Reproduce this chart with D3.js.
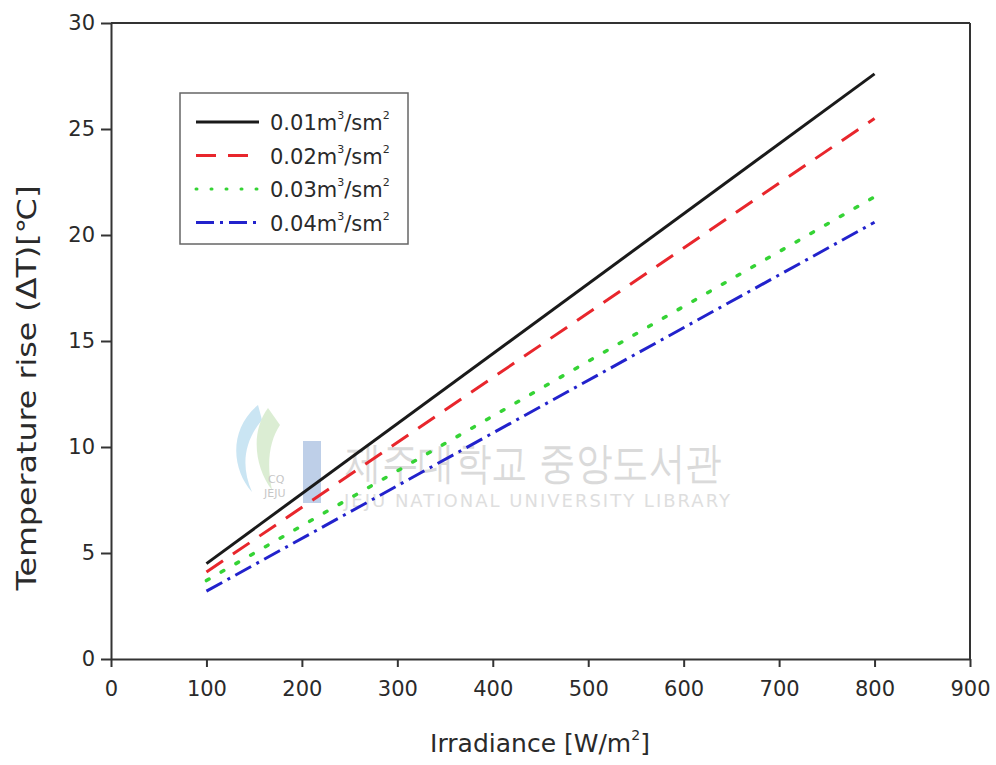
<!DOCTYPE html>
<html>
<head>
<meta charset="utf-8">
<script src="https://cdn.jsdelivr.net/npm/d3@7"></script>
<style>
  html, body { margin: 0; padding: 0; background: #fff; }
  svg { display: block; }
  text { font-family: "DejaVu Sans", "Liberation Sans", sans-serif; fill: #2a2a2a; }
</style>
</head>
<body>
<svg id="chart" width="996" height="765"></svg>
<script>
// Irradiance [W/m2] at the ends of each straight-line series
const irradiance = [100, 800];
// Temperature rise for each collector flow rate
const rise001 = [4.5, 27.6];
const rise002 = [4.1, 25.5];
const rise003 = [3.7, 21.8];
const rise004 = [3.2, 20.6];
const seriesNames = ["0.01", "0.02", "0.03", "0.04"];
const seriesColors = ["#1a1a1a", "#e8262c", "#35d335", "#2222cc"];
const seriesDash = [null, "20,12", "3,14", "18,6,3,6"];
const xTicks = [0, 100, 200, 300, 400, 500, 600, 700, 800, 900];
const yTicks = [0, 5, 10, 15, 20, 25, 30];

const svg = d3.select("#chart");
const plotLeft = 111, plotRight = 970, plotTop = 23, plotBottom = 659;

const x = d3.scaleLinear().domain([0, 900]).range([plotLeft, plotRight]);
const y = d3.scaleLinear().domain([0, 30]).range([plotBottom, plotTop]);

// Watermark (library logo and name)
const wm = svg.append("g").attr("opacity", 0.55);
wm.append("path")
  .attr("d", "M258,405 C228,430 232,470 252,492 C240,465 245,440 262,420 Z")
  .attr("fill", "#9fd0ea");
wm.append("path")
  .attr("d", "M268,408 C250,432 255,468 272,490 C266,462 270,440 280,425 Z")
  .attr("fill", "#bfe0b0");
wm.append("rect").attr("x", 303).attr("y", 441).attr("width", 18).attr("height", 62).attr("fill", "#8aa8d6");
wm.append("text").attr("x", 268).attr("y", 483).attr("font-size", 11).style("fill", "#999").text("CQ");
wm.append("text").attr("x", 264).attr("y", 497).attr("font-size", 11).style("fill", "#999").text("JEJU");
wm.append("text").attr("x", 345).attr("y", 478)
  .attr("font-family", "Noto Sans CJK KR").attr("font-size", 44)
  .attr("textLength", 377).attr("lengthAdjust", "spacingAndGlyphs")
  .style("fill", "#bdbdbd").text("제주대학교 중앙도서관");
wm.append("text").attr("x", 344).attr("y", 507)
  .attr("font-size", 18).style("fill", "#c4c4c4")
  .attr("textLength", 386)
  .text("JEJU NATIONAL UNIVERSITY  LIBRARY");

// Frame: right and top borders
svg.append("line").attr("x1", plotRight).attr("x2", plotRight).attr("y1", plotTop).attr("y2", plotBottom)
  .attr("stroke", "#333").attr("stroke-width", 2);
svg.append("line").attr("x1", plotLeft).attr("x2", plotRight).attr("y1", plotTop).attr("y2", plotTop)
  .attr("stroke", "#333").attr("stroke-width", 2);

// Axes
const xAxis = svg.append("g").attr("transform", `translate(0,${plotBottom})`)
  .call(d3.axisBottom(x).tickValues(xTicks).tickSize(8).tickPadding(14).tickSizeOuter(0));
const yAxis = svg.append("g").attr("transform", `translate(${plotLeft},0)`)
  .call(d3.axisLeft(y).tickValues(yTicks).tickSize(10).tickPadding(6).tickSizeOuter(0));
[xAxis, yAxis].forEach(g => {
  g.select(".domain").attr("stroke", "#333").attr("stroke-width", 2);
  g.selectAll(".tick line").attr("stroke", "#333").attr("stroke-width", 2);
  g.selectAll(".tick text").attr("font-size", 21).style("fill", "#2a2a2a")
    .attr("font-family", "DejaVu Sans");
});

// Series lines
const allSeries = [rise001, rise002, rise003, rise004];
const line = d3.line().x(d => x(d[0])).y(d => y(d[1]));
allSeries.forEach((vals, i) => {
  const pts = irradiance.map((v, j) => [v, vals[j]]);
  svg.append("path").datum(pts)
    .attr("d", line)
    .attr("fill", "none")
    .attr("stroke", seriesColors[i])
    .attr("stroke-width", i === 2 ? 3.5 : 3)
    .attr("stroke-linecap", i === 2 ? "round" : "butt")
    .attr("stroke-dasharray", seriesDash[i]);
});

// Axis titles
const xt = svg.append("text").attr("x", 540).attr("y", 752)
  .attr("text-anchor", "middle").attr("font-size", 25);
xt.append("tspan").text("Irradiance [W/m");
xt.append("tspan").attr("font-size", 14).attr("dy", -12).text("2");
xt.append("tspan").attr("dy", 12).text("]");

svg.append("text")
  .attr("transform", "translate(36,388) rotate(-90)")
  .attr("text-anchor", "middle").attr("font-size", 26)
  .attr("textLength", 405).attr("lengthAdjust", "spacingAndGlyphs")
  .text("Temperature rise (ΔT)[℃]");

// Legend
const legend = svg.append("g");
legend.append("rect").attr("x", 180).attr("y", 93).attr("width", 228).attr("height", 151)
  .attr("fill", "#fff").attr("stroke", "#666").attr("stroke-width", 1.5);
seriesNames.forEach((name, i) => {
  const cy = 122 + i * 33.5;
  legend.append("line").attr("x1", 196).attr("x2", 259).attr("y1", cy).attr("y2", cy)
    .attr("stroke", seriesColors[i]).attr("stroke-width", 3)
    .attr("stroke-linecap", i === 2 ? "round" : "butt")
    .attr("stroke-dasharray", i === 2 ? "1,14" : seriesDash[i]);
  const t = legend.append("text").attr("x", 270).attr("y", cy + 8).attr("font-size", 21);
  t.append("tspan").text(name + "m");
  t.append("tspan").attr("font-size", 11).attr("dy", -11).text("3");
  t.append("tspan").attr("dy", 11).text("/sm");
  t.append("tspan").attr("font-size", 11).attr("dy", -11).text("2");
});
</script>
</body>
</html>
